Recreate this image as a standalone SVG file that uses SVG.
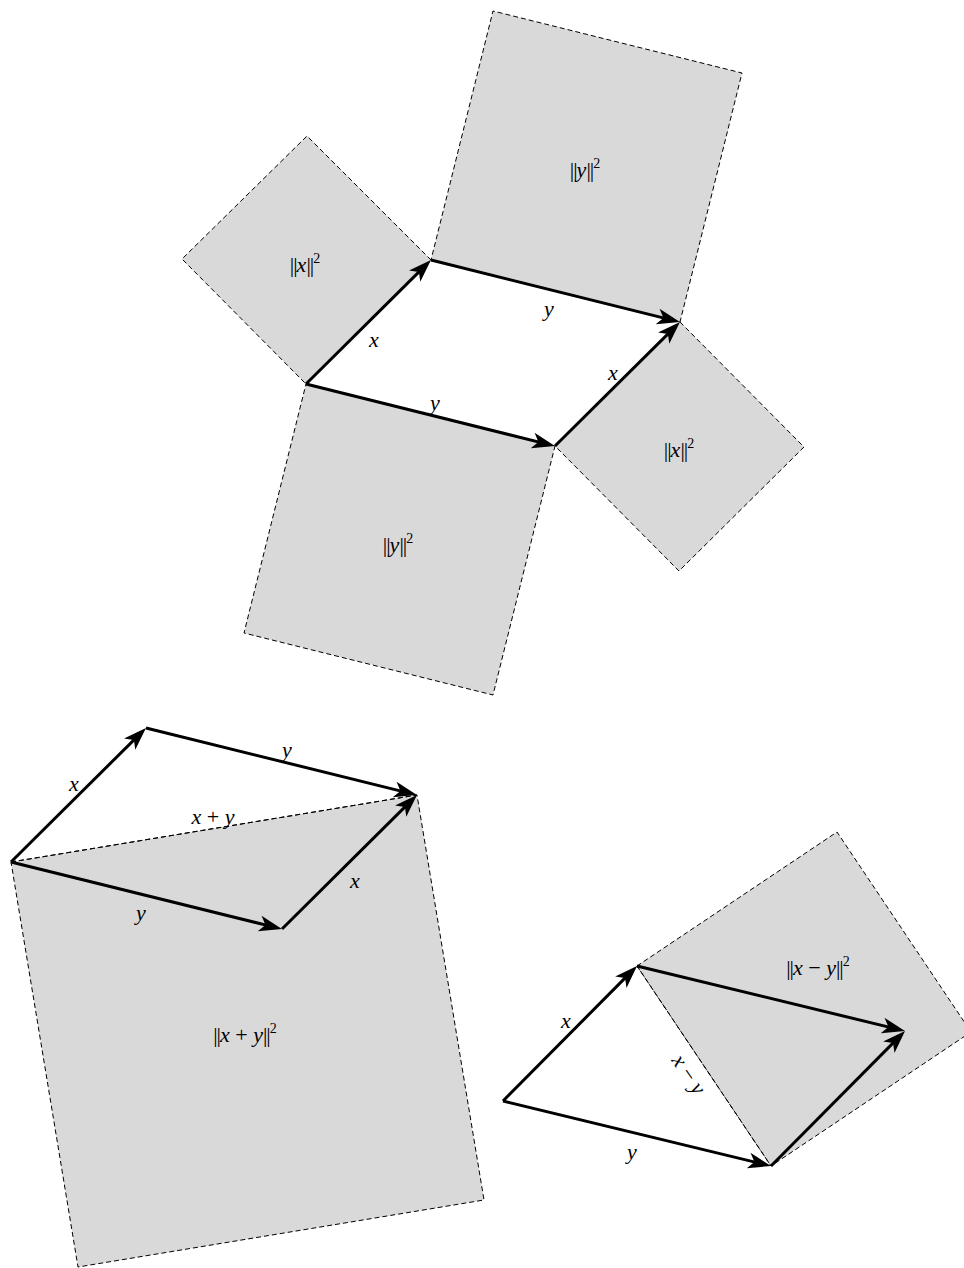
<svg xmlns="http://www.w3.org/2000/svg" width="964" height="1268" viewBox="0 0 964 1268">
<defs>
<marker id="ah" viewBox="-26 -9 28 18" markerWidth="28" markerHeight="18" refX="-8" refY="0" orient="auto" markerUnits="userSpaceOnUse">
<path d="M0,0 L-23,-8 L-17,0 L-23,8 Z" fill="#000"/>
</marker>
</defs>
<style>
.sq{fill:#d9d9d9;stroke:#000;stroke-width:1;stroke-dasharray:5 3}
.dl{fill:none;stroke:#000;stroke-width:1;stroke-dasharray:5 3}
.ar{fill:none;stroke:#000;stroke-width:3;marker-end:url(#ah)}
text{font-family:"Liberation Serif","DejaVu Serif",serif;font-size:22px;fill:#000;text-anchor:middle}
.i{font-style:italic}
.sup{font-size:14px}
.b{letter-spacing:-1px}
</style>
<rect width="964" height="1268" fill="#fff"/>
<g id="squares-top">
<polygon id="sq-x-left" class="sq" points="306,384 431,260 307,136 182,259"/>
<polygon id="sq-y-top" class="sq" points="431,260 680,322 742,73 493,11"/>
<polygon id="sq-x-right" class="sq" points="555,446 680,322 804,447 679,571"/>
<polygon id="sq-y-bottom" class="sq" points="306,384 555,446 493,695 244,633"/>
</g>
<g id="squares-bottom">
<polygon id="sq-xpy" class="sq" points="11,862 417,795 484,1200 78,1267"/>
<polygon id="sq-xmy" class="sq" points="637,966 837,832 971,1032 771,1166"/>
</g>
<g id="connectors">
<line class="ar" x1="306" y1="384" x2="425.3" y2="265.6"/>
<line class="ar" x1="431" y1="260" x2="672.2" y2="320.1"/>
<line class="ar" x1="306" y1="384" x2="547.2" y2="444.1"/>
<line class="ar" x1="555" y1="446" x2="674.3" y2="327.6"/>
<line class="dl" x1="11" y1="862" x2="417" y2="795"/>
<line class="ar" x1="11" y1="862" x2="140.3" y2="733.6"/>
<line class="ar" x1="146" y1="728" x2="409.2" y2="793.1"/>
<line class="ar" x1="11" y1="862" x2="274.2" y2="927.1"/>
<line class="ar" x1="282" y1="929" x2="411.3" y2="800.6"/>
<line class="dl" x1="637" y1="966" x2="771" y2="1166"/>
<line class="ar" x1="503" y1="1101" x2="631.4" y2="971.6"/>
<line class="ar" x1="637" y1="966" x2="897.2" y2="1029.1"/>
<line class="ar" x1="503" y1="1101" x2="763.2" y2="1164.1"/>
<line class="ar" x1="771" y1="1166" x2="899.4" y2="1036.6"/>
</g>
<g id="labels">
<text x="305" y="272"><tspan class="b">||</tspan><tspan class="i">x</tspan><tspan class="b">||</tspan><tspan class="sup" dy="-9">2</tspan></text>
<text x="585" y="177"><tspan class="b">||</tspan><tspan class="i">y</tspan><tspan class="b">||</tspan><tspan class="sup" dy="-9">2</tspan></text>
<text x="679" y="457"><tspan class="b">||</tspan><tspan class="i">x</tspan><tspan class="b">||</tspan><tspan class="sup" dy="-9">2</tspan></text>
<text x="398" y="552"><tspan class="b">||</tspan><tspan class="i">y</tspan><tspan class="b">||</tspan><tspan class="sup" dy="-9">2</tspan></text>
<text class="i" x="374" y="347">x</text>
<text class="i" x="549" y="316">y</text>
<text class="i" x="435" y="410">y</text>
<text class="i" x="613" y="380">x</text>
<text class="i" x="74" y="791">x</text>
<text class="i" x="287" y="757">y</text>
<text x="213" y="824"><tspan class="i">x</tspan> + <tspan class="i">y</tspan></text>
<text class="i" x="355" y="888">x</text>
<text class="i" x="141" y="920">y</text>
<text x="245" y="1042"><tspan class="b">||</tspan><tspan class="i">x</tspan> + <tspan class="i">y</tspan><tspan class="b">||</tspan><tspan class="sup" dy="-9">2</tspan></text>
<text class="i" x="566" y="1028">x</text>
<text x="818" y="975"><tspan class="b">||</tspan><tspan class="i">x</tspan> − <tspan class="i">y</tspan><tspan class="b">||</tspan><tspan class="sup" dy="-9">2</tspan></text>
<text transform="translate(688,1075) rotate(56)" x="0" y="6"><tspan class="i">x</tspan> − <tspan class="i">y</tspan></text>
<text class="i" x="632" y="1159">y</text>
</g>
</svg>
